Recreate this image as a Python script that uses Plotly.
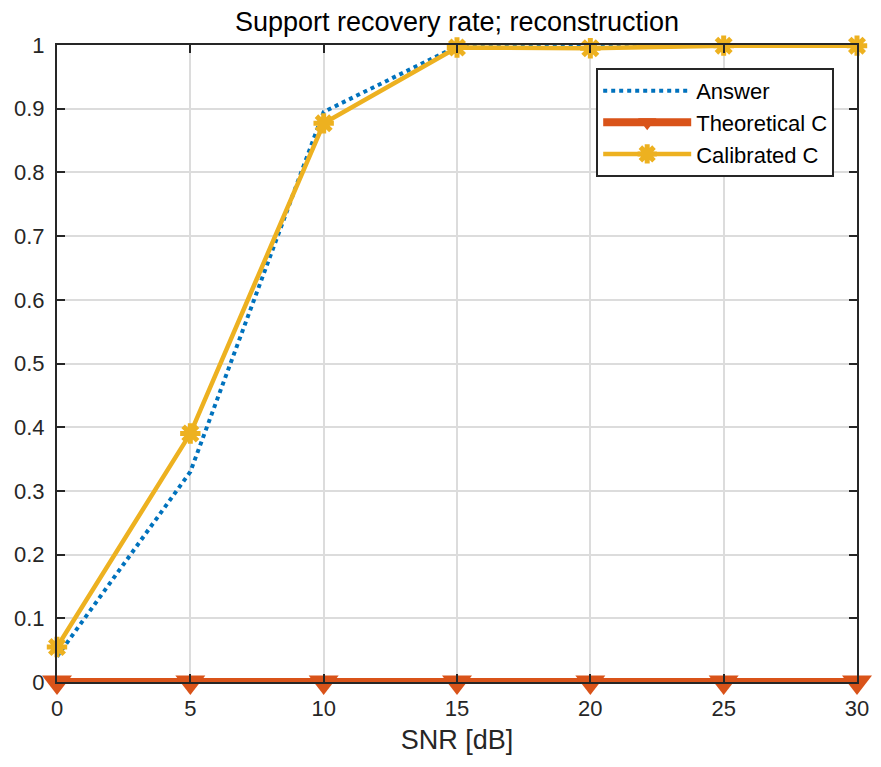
import plotly.graph_objects as go

snr = [0, 5, 10, 15, 20, 25, 30]
answer = [0.04, 0.33, 0.895, 0.998, 1.0, 1.0, 1.0]
theoretical = [0, 0, 0, 0, 0, 0, 0]
calibrated = [0.055, 0.39, 0.877, 0.996, 0.995, 0.999, 0.999]
yticks = [0, 0.1, 0.2, 0.3, 0.4, 0.5, 0.6, 0.7, 0.8, 0.9, 1]
ytext = ["0", "0.1", "0.2", "0.3", "0.4", "0.5", "0.6", "0.7", "0.8", "0.9", "1"]
xticks = [0, 5, 10, 15, 20, 25, 30]

fig = go.Figure()
fig.add_trace(go.Scatter(x=snr, y=answer, mode="lines", name="Answer",
                         line=dict(color="#0072BD", width=4, dash="dot")))
fig.add_trace(go.Scatter(x=snr, y=theoretical, mode="lines+markers", name="Theoretical C",
                         line=dict(color="#D95319", width=8),
                         marker=dict(symbol="triangle-down", size=26, color="#D95319")))
fig.add_trace(go.Scatter(x=snr, y=calibrated, mode="lines+markers", name="Calibrated C",
                         line=dict(color="#EDB120", width=4.5),
                         marker=dict(symbol="asterisk-open", size=17, color="#EDB120",
                                     line=dict(color="#EDB120", width=5))))

axis_common = dict(showline=True, linecolor="#262626", linewidth=2, mirror="allticks",
                   ticks="inside", ticklen=8, tickcolor="#262626", tickwidth=2,
                   showgrid=True, gridcolor="#DCDCDC", gridwidth=2,
                   zeroline=False, tickfont=dict(size=22, color="#262626"))

fig.update_layout(
    width=881, height=767,
    margin=dict(l=57, r=18, t=45, b=85),
    paper_bgcolor="white", plot_bgcolor="white",
    font=dict(family="Liberation Sans, Arial, sans-serif", color="#262626"),
    title=dict(text="Support recovery rate; reconstruction", x=0.5, xanchor="center",
               xref="paper",
               y=1 - 22/767, yanchor="middle", font=dict(size=27, color="black")),
    xaxis=dict(range=[0, 30], tickvals=xticks, ticklabelstandoff=6,
               title=dict(text="SNR [dB]", font=dict(size=27), standoff=10),
               **axis_common),
    yaxis=dict(range=[0, 1], tickvals=yticks, ticktext=ytext, ticklabelstandoff=6, **axis_common),
    legend=dict(x=0.674, y=0.964, xanchor="left", yanchor="top",
                bgcolor="white", bordercolor="#262626", borderwidth=2,
                font=dict(size=22, color="black"), itemwidth=88, tracegroupgap=0),
    showlegend=True,
)
for tr in fig.data:
    tr.cliponaxis = False

fig.write_html("out.html")
